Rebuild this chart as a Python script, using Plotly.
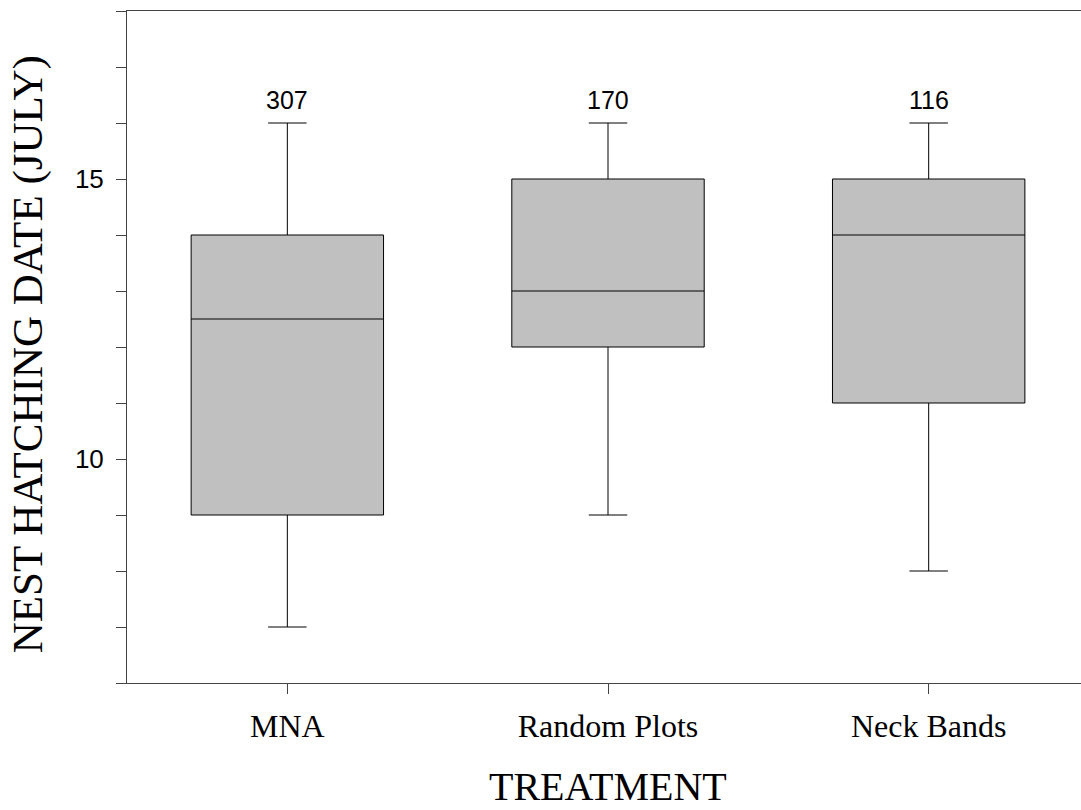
import plotly.graph_objects as go

categories = ["MNA", "Random Plots", "Neck Bands"]
lower_whisker = [7, 9, 8]
q1_values = [9, 12, 11]
median_values = [12.5, 13, 14]
q3_values = [14, 15, 15]
upper_whisker = [16, 16, 16]
sample_sizes = ["307", "170", "116"]
y_tick_values = [10, 15]

fig = go.Figure()
fig.add_trace(go.Box(
    x=categories,
    q1=q1_values,
    median=median_values,
    q3=q3_values,
    lowerfence=lower_whisker,
    upperfence=upper_whisker,
    fillcolor="#c0c0c0",
    line=dict(color="black", width=1),
    width=0.6,
    whiskerwidth=0.2,
    boxpoints=False,
    hoverinfo="skip",
    showlegend=False,
))

for cat, top, n in zip(categories, upper_whisker, sample_sizes):
    fig.add_annotation(x=cat, y=top, text=n, showarrow=False, yshift=23,
                       xanchor="center", yanchor="middle",
                       font=dict(family="Liberation Sans, Arial", size=25, color="black"))

fig.add_annotation(x=1, xref="x", y=-0.1545, yref="paper", text="TREATMENT",
                   showarrow=False, xanchor="center", yanchor="middle",
                   font=dict(family="Liberation Serif, Times New Roman", size=40, color="black"))
fig.add_annotation(x=-0.1043, xref="paper", y=0.49, yref="paper",
                   text="NEST HATCHING DATE (JULY)", textangle=-90,
                   showarrow=False, xanchor="center", yanchor="middle",
                   font=dict(family="Liberation Serif, Times New Roman", size=43, color="black"))

fig.update_layout(
    width=1081, height=810,
    margin=dict(l=127, r=0, t=11, b=127),
    paper_bgcolor="white", plot_bgcolor="white",
    hovermode=False,
    xaxis=dict(
        type="category", range=[-0.5, 2.475],
        showline=True, mirror=True, linecolor="#444", linewidth=1,
        ticks="outside", ticklen=10, tickcolor="#444", tickwidth=1,
        showgrid=False, zeroline=False, ticklabelstandoff=5,
        tickfont=dict(family="Liberation Serif, Times New Roman", size=32, color="black"),
    ),
    yaxis=dict(
        range=[6, 18], tickvals=y_tick_values,
        showline=True, linecolor="#444", linewidth=1,
        ticks="outside", ticklen=10, tickcolor="#444", tickwidth=1,
        minor=dict(dtick=1, tick0=0, ticks="outside", ticklen=10, tickcolor="#444", tickwidth=1, showgrid=False),
        showgrid=False, zeroline=False, ticklabelstandoff=7,
        tickfont=dict(family="Liberation Sans, Arial", size=26, color="black"),
    ),
)

fig.write_html("out.html", config={"displayModeBar": False})
